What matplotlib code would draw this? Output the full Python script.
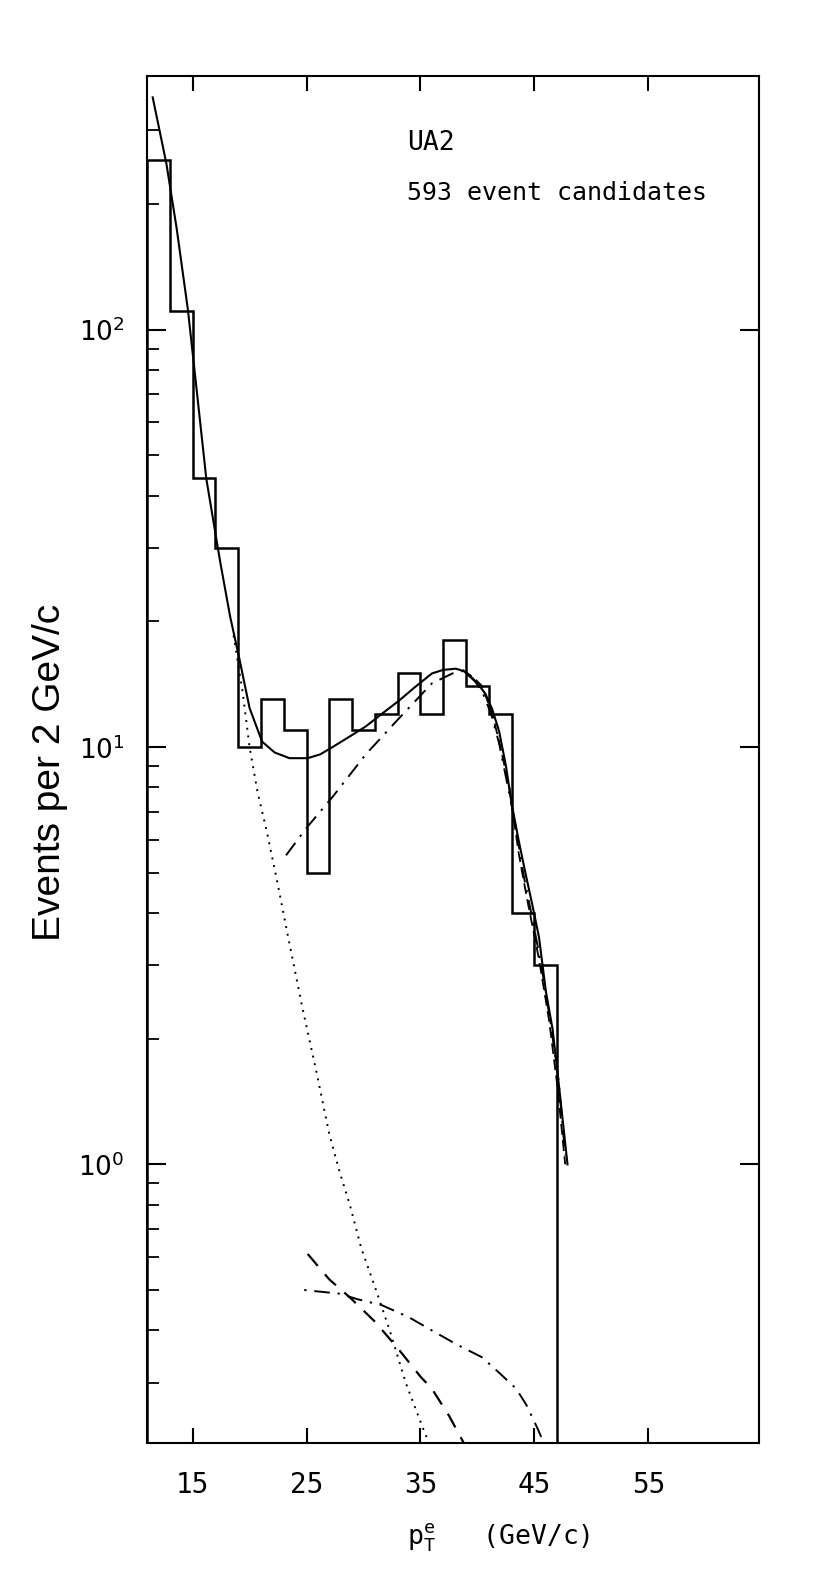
#!/usr/bin/env python3
"""UA2 electron pT spectrum, 593 W event candidates (log scale)."""

import matplotlib
matplotlib.use("Agg")
import matplotlib.pyplot as plt
from matplotlib.ticker import FixedLocator, NullFormatter, FixedFormatter

# histogram: 2 GeV bins from 11 to 47 GeV
bin_edges = [11, 13, 15, 17, 19, 21, 23, 25, 27, 29, 31, 33, 35, 37, 39, 41, 43, 45, 47]
counts = [255, 111, 44, 30, 10, 13, 11, 5, 13, 11, 12, 15, 12, 18, 14, 12, 4, 3]

# total fit (solid)
total_x = [11.5, 12.7, 13.6, 14.6, 15.4, 16.2, 17.4, 18.3, 19.1, 20.0, 21.1, 22.2,
           23.5, 25.1, 26.2, 27.3, 28.8, 30.2, 31.6, 33.1, 34.5, 36.0, 37.0, 38.1,
           38.8, 39.5, 40.1, 40.7, 41.3, 41.9, 42.5, 43.0, 43.6, 44.2, 44.8, 45.4,
           46.0, 46.6, 47.2, 47.9]
total_y = [360, 250, 175, 111, 70, 44, 28, 20.5, 16.3, 12.4, 10.3, 9.7,
           9.4, 9.4, 9.6, 10.0, 10.6, 11.2, 12.0, 12.9, 13.9, 15.0, 15.3, 15.4,
           15.2, 14.6, 14.1, 13.4, 12.3, 10.9, 9.0, 7.3, 6.0, 5.0, 4.2, 3.5,
           2.6, 2.1, 1.5, 1.0]

# QCD background (dotted)
qcd_x = [18.6, 19.4, 20.0, 20.7, 21.5, 22.4, 23.3, 24.6, 25.9, 27.0, 27.9, 28.8,
         29.8, 31.1, 32.3, 33.7, 35.3, 35.9]
qcd_y = [18.5, 13.5, 10.0, 7.8, 6.3, 4.8, 3.6, 2.4, 1.65, 1.18, 0.96, 0.8,
         0.63, 0.5, 0.4, 0.3, 0.23, 0.21]

# W -> e nu (dash-dot, upper)
w_x = [23.2, 25.0, 27.3, 30.2, 33.1, 36.0, 37.8, 38.7, 39.6, 40.4, 41.2, 41.9,
       42.6, 43.3, 44.0, 44.8, 45.6, 46.4, 47.1, 47.7]
w_y = [5.5, 6.4, 7.6, 9.6, 11.7, 14.2, 15.0, 15.2, 14.6, 13.6, 12.0, 10.2,
       8.2, 6.6, 5.0, 3.9, 3.0, 2.2, 1.6, 1.05]

# dashed, upper (right edge of the Jacobian peak)
wd_x = [38.7, 39.6, 40.4, 41.3, 41.9, 42.8, 43.6, 44.3, 45.4, 46.3, 47.0, 47.7]
wd_y = [15.3, 14.7, 14.0, 12.0, 10.3, 8.0, 5.6, 4.4, 3.1, 2.2, 1.55, 1.0]

# dashed, lower
low_dash_x = [25.1, 27.0, 28.8, 31.0, 33.1, 35.0, 36.0, 37.5, 38.8]
low_dash_y = [0.61, 0.53, 0.48, 0.42, 0.36, 0.31, 0.29, 0.25, 0.215]

# dash-dot, lower
low_dd_x = [24.8, 27.9, 29.5, 31.6, 34.0, 36.0, 38.2, 40.4, 42.0, 43.4, 44.3, 44.8, 45.3, 45.6, 46.0]
low_dd_y = [0.50, 0.49, 0.475, 0.46, 0.43, 0.40, 0.37, 0.345, 0.315, 0.29, 0.265, 0.248, 0.232, 0.222, 0.212]

x_ticks = [15, 25, 35, 45, 55]
y_major = [1, 10, 100]
y_major_labels = [r"$10^0$", r"$10^1$", r"$10^2$"]
y_minor = [0.3, 0.4, 0.5, 0.6, 0.7, 0.8, 0.9,
           2, 3, 4, 5, 6, 7, 8, 9,
           20, 30, 40, 50, 60, 70, 80, 90,
           200, 300]

fig = plt.figure(figsize=(8.3, 15.8), dpi=100)
ax = fig.add_axes([0.1771, 0.0867, 0.7373, 0.8652])

ax.set_yscale("log")
ax.set_xlim(11, 64.7)
ax.set_ylim(0.215, 405)

ax.stairs(counts, bin_edges, baseline=1e-3, color="black", lw=1.8)
ax.plot(total_x, total_y, color="black", lw=1.5)
ax.plot(qcd_x, qcd_y, color="black", lw=1.4, linestyle=(0, (1, 3)))
ax.plot(w_x, w_y, color="black", lw=1.4, linestyle=(0, (8, 4, 1.2, 4)))
ax.plot(wd_x, wd_y, color="black", lw=1.3, linestyle=(0, (6, 3)))
ax.plot(low_dash_x, low_dash_y, color="black", lw=1.6, linestyle=(0, (7, 5)))
ax.plot(low_dd_x, low_dd_y, color="black", lw=1.4, linestyle=(0, (1.2, 4, 8, 4)))

# ticks
ax.xaxis.set_major_locator(FixedLocator(x_ticks))
ax.yaxis.set_major_locator(FixedLocator(y_major))
ax.yaxis.set_major_formatter(FixedFormatter(y_major_labels))
ax.yaxis.set_minor_locator(FixedLocator(y_minor))
ax.yaxis.set_minor_formatter(NullFormatter())

ax.tick_params(axis="x", which="major", direction="in", top=True, bottom=True,
               length=11, width=1.5, pad=20, labelsize=20)
ax.tick_params(axis="y", which="major", direction="in", left=True, right=True,
               length=14, width=1.5, pad=16, labelsize=19)
ax.tick_params(axis="y", which="minor", direction="in", left=True, right=False,
               length=8.5, width=1.3)

for lbl in ax.get_xticklabels():
    lbl.set_family("DejaVu Sans Mono")
for lbl in ax.get_yticklabels():
    lbl.set_family(["Liberation Sans", "DejaVu Sans"])

for side in ["left", "bottom", "top", "right"]:
    ax.spines[side].set_linewidth(1.5)

ax.text(0.425, 0.951, "UA2", transform=ax.transAxes, ha="left", va="center",
        family="DejaVu Sans Mono", fontsize=19)
ax.text(0.425, 0.9145, "593 event candidates", transform=ax.transAxes,
        ha="left", va="center", family="DejaVu Sans Mono", fontsize=18)

ax.text(0.575, -0.069, r"$\mathregular{p_T^e}$   (GeV/c)", transform=ax.transAxes,
        ha="center", va="center", family="DejaVu Sans Mono", fontsize=19)

fig.text(0.060, 0.511, "Events per 2 GeV/c", rotation=90, ha="center", va="center",
         family=["Liberation Sans", "DejaVu Sans"], fontsize=28)

fig.savefig("out.png", dpi=100)
plt.close(fig)
